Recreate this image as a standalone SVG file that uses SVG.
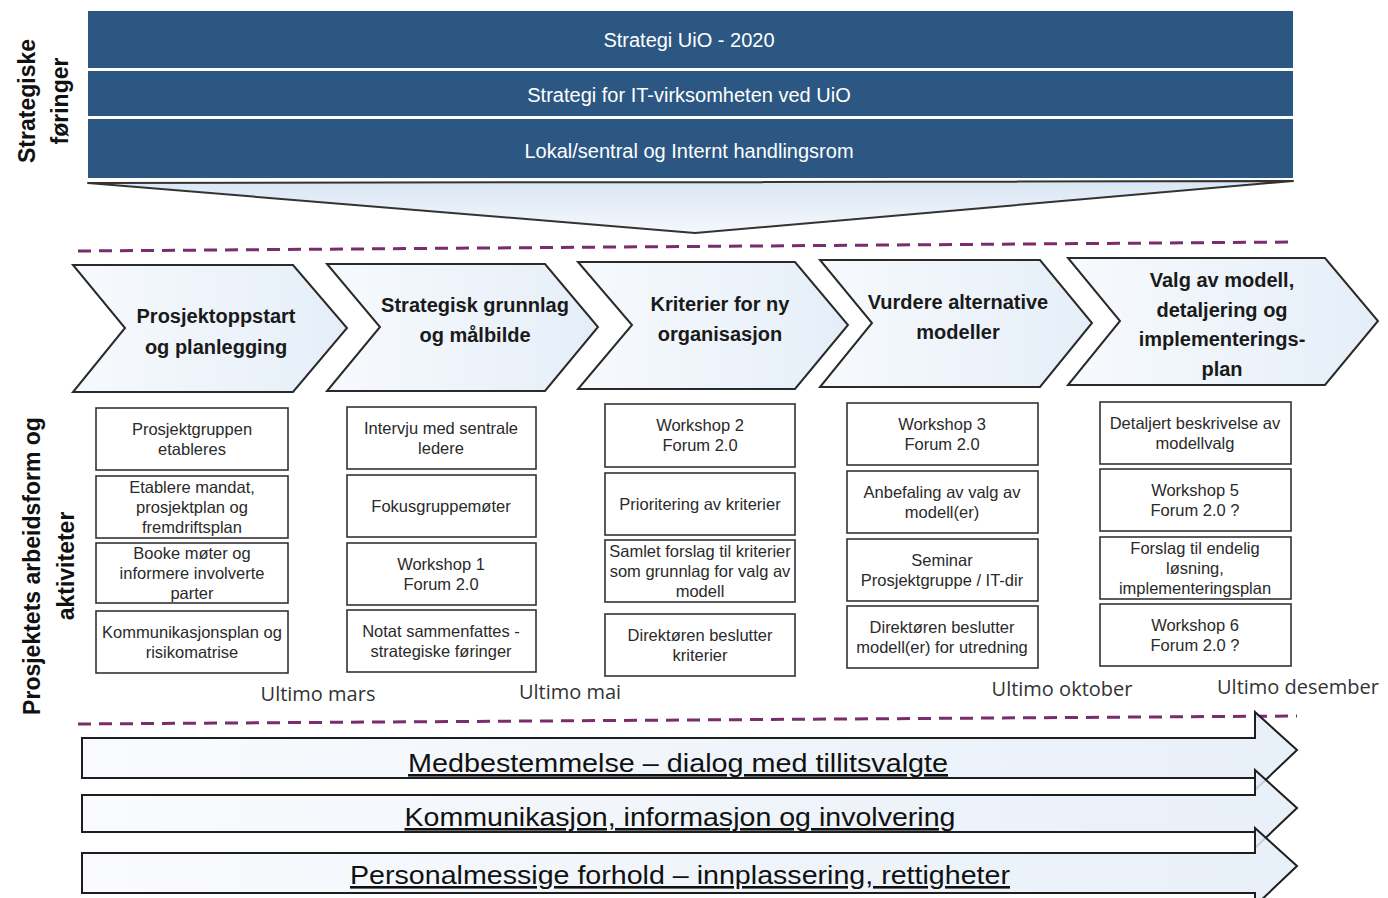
<svg xmlns="http://www.w3.org/2000/svg" width="1388" height="898" viewBox="0 0 1388 898">
<defs>
<linearGradient id="chev" x1="0" y1="0" x2="1" y2="0">
<stop offset="0" stop-color="#f7fafd"/><stop offset="1" stop-color="#e5eef8"/>
</linearGradient>
<linearGradient id="funnel" x1="0" y1="0" x2="0" y2="1">
<stop offset="0" stop-color="#d9e6f4"/><stop offset="1" stop-color="#f5f8fc"/>
</linearGradient>
<linearGradient id="arr" x1="0" y1="0" x2="1" y2="0">
<stop offset="0" stop-color="#f8fafd"/><stop offset="1" stop-color="#e4edf7"/>
</linearGradient>
</defs>
<style>
.band{fill:#2b5782}
.bandtxt{font-family:"Liberation Sans",Arial,sans-serif;font-size:20px;fill:#ffffff;text-anchor:middle}
.side{font-family:"Liberation Sans",Arial,sans-serif;font-size:23px;font-weight:bold;fill:#111;text-anchor:middle}
.chev{fill:url(#chev);stroke:#2a2a2a;stroke-width:2}
.chevtxt{font-family:"Liberation Sans",Arial,sans-serif;font-size:20px;font-weight:bold;fill:#1a1a1a;text-anchor:middle}
.box{fill:#ffffff;stroke:#333;stroke-width:1.6}
.boxtxt{font-family:"Liberation Sans",Arial,sans-serif;font-size:16.5px;fill:#2a2a2a;text-anchor:middle}
.ms{font-family:"Open Sans","Liberation Sans",sans-serif;font-size:20px;fill:#333;text-anchor:middle}
.dash{stroke:#7a2c6c;stroke-width:3;stroke-dasharray:13 8;fill:none}
.arrow{fill:url(#arr);fill-opacity:0.85;stroke:#1e1e1e;stroke-width:2}
.arrtxt{font-family:"Liberation Sans",Arial,sans-serif;font-size:26px;fill:#111;text-anchor:middle;text-decoration:underline}
</style>
<rect width="1388" height="898" fill="#ffffff"/>

<g id="side-labels">
<text class="side" transform="translate(35,101) rotate(-90)">Strategiske</text>
<text class="side" transform="translate(68,101) rotate(-90)">føringer</text>
<text class="side" transform="translate(40,566) rotate(-90)">Prosjektets arbeidsform og</text>
<text class="side" transform="translate(74,566) rotate(-90)">aktiviteter</text>
</g>

<g id="strategy-bands">
<g id="band1"><rect class="band" x="88" y="11" width="1205" height="57"/><text class="bandtxt" x="689" y="47">Strategi UiO - 2020</text></g>
<g id="band2"><rect class="band" x="88" y="71" width="1205" height="45"/><text class="bandtxt" x="689" y="102">Strategi for IT-virksomheten ved UiO</text></g>
<g id="band3"><rect class="band" x="88" y="119" width="1205" height="59"/><text class="bandtxt" x="689" y="158">Lokal/sentral og Internt handlingsrom</text></g>
<path id="funnel-shape" d="M88,183 L1293,181 L695,233 Z" fill="url(#funnel)" stroke="#333" stroke-width="2" stroke-linejoin="round"/>
</g>

<g id="connectors">
<line class="dash" x1="78" y1="251" x2="1295" y2="242"/>
<line class="dash" x1="78" y1="724" x2="1297" y2="716"/>
</g>

<g id="phase1"><path class="chev" d="M73,265 L293,265 L347,328 L293,392 L73,392 L125,328 Z"/>
<text class="chevtxt" x="216" y="323">Prosjektoppstart</text><text class="chevtxt" x="216" y="354">og planlegging</text></g>
<g id="phase2"><path class="chev" d="M327,264 L545,264 L598,327 L545,391 L327,391 L380,327 Z"/>
<text class="chevtxt" x="475" y="312">Strategisk grunnlag</text><text class="chevtxt" x="475" y="342">og målbilde</text></g>
<g id="phase3"><path class="chev" d="M578,262 L795,262 L848,325 L795,389 L578,389 L632,325 Z"/>
<text class="chevtxt" x="720" y="311">Kriterier for ny</text><text class="chevtxt" x="720" y="341">organisasjon</text></g>
<g id="phase4"><path class="chev" d="M820,260 L1040,260 L1092,323 L1040,387 L820,387 L872,323 Z"/>
<text class="chevtxt" x="958" y="309">Vurdere alternative</text><text class="chevtxt" x="958" y="339">modeller</text></g>
<g id="phase5"><path class="chev" d="M1068,258 L1325,258 L1378,321 L1325,385 L1068,385 L1120,321 Z"/>
<text class="chevtxt" x="1222" y="287">Valg av modell,</text><text class="chevtxt" x="1222" y="317">detaljering og</text><text class="chevtxt" x="1222" y="346">implementerings-</text><text class="chevtxt" x="1222" y="376">plan</text></g>

<g id="col1">
<g id="c1b1"><rect class="box" x="96" y="408" width="192" height="62"/><text class="boxtxt" x="192" y="435">Prosjektgruppen</text><text class="boxtxt" x="192" y="455">etableres</text></g>
<g id="c1b2"><rect class="box" x="96" y="476" width="192" height="62"/><text class="boxtxt" x="192" y="493">Etablere mandat,</text><text class="boxtxt" x="192" y="513">prosjektplan og</text><text class="boxtxt" x="192" y="533">fremdriftsplan</text></g>
<g id="c1b3"><rect class="box" x="96" y="543" width="192" height="60"/><text class="boxtxt" x="192" y="559">Booke møter og</text><text class="boxtxt" x="192" y="579">informere involverte</text><text class="boxtxt" x="192" y="599">parter</text></g>
<g id="c1b4"><rect class="box" x="96" y="611" width="192" height="62"/><text class="boxtxt" x="192" y="638">Kommunikasjonsplan og</text><text class="boxtxt" x="192" y="658">risikomatrise</text></g>
</g>
<g id="col2">
<g id="c2b1"><rect class="box" x="347" y="407" width="189" height="62"/><text class="boxtxt" x="441" y="434">Intervju med sentrale</text><text class="boxtxt" x="441" y="454">ledere</text></g>
<g id="c2b2"><rect class="box" x="347" y="475" width="189" height="62"/><text class="boxtxt" x="441" y="512">Fokusgruppemøter</text></g>
<g id="c2b3"><rect class="box" x="347" y="543" width="189" height="62"/><text class="boxtxt" x="441" y="570">Workshop 1</text><text class="boxtxt" x="441" y="590">Forum 2.0</text></g>
<g id="c2b4"><rect class="box" x="347" y="610" width="189" height="62"/><text class="boxtxt" x="441" y="637">Notat sammenfattes -</text><text class="boxtxt" x="441" y="657">strategiske føringer</text></g>
</g>
<g id="col3">
<g id="c3b1"><rect class="box" x="605" y="404" width="190" height="63"/><text class="boxtxt" x="700" y="431">Workshop 2</text><text class="boxtxt" x="700" y="451">Forum 2.0</text></g>
<g id="c3b2"><rect class="box" x="605" y="473" width="190" height="62"/><text class="boxtxt" x="700" y="510">Prioritering av kriterier</text></g>
<g id="c3b3"><rect class="box" x="605" y="540" width="190" height="62"/><text class="boxtxt" x="700" y="557">Samlet forslag til kriterier</text><text class="boxtxt" x="700" y="577">som grunnlag for valg av</text><text class="boxtxt" x="700" y="597">modell</text></g>
<g id="c3b4"><rect class="box" x="605" y="614" width="190" height="62"/><text class="boxtxt" x="700" y="641">Direktøren beslutter</text><text class="boxtxt" x="700" y="661">kriterier</text></g>
</g>
<g id="col4">
<g id="c4b1"><rect class="box" x="847" y="403" width="191" height="62"/><text class="boxtxt" x="942" y="430">Workshop 3</text><text class="boxtxt" x="942" y="450">Forum 2.0</text></g>
<g id="c4b2"><rect class="box" x="847" y="471" width="191" height="62"/><text class="boxtxt" x="942" y="498">Anbefaling av valg av</text><text class="boxtxt" x="942" y="518">modell(er)</text></g>
<g id="c4b3"><rect class="box" x="847" y="539" width="191" height="62"/><text class="boxtxt" x="942" y="566">Seminar</text><text class="boxtxt" x="942" y="586">Prosjektgruppe / IT-dir</text></g>
<g id="c4b4"><rect class="box" x="847" y="606" width="191" height="62"/><text class="boxtxt" x="942" y="633">Direktøren beslutter</text><text class="boxtxt" x="942" y="653">modell(er) for utredning</text></g>
</g>
<g id="col5">
<g id="c5b1"><rect class="box" x="1100" y="402" width="191" height="62"/><text class="boxtxt" x="1195" y="429">Detaljert beskrivelse av</text><text class="boxtxt" x="1195" y="449">modellvalg</text></g>
<g id="c5b2"><rect class="box" x="1100" y="469" width="191" height="62"/><text class="boxtxt" x="1195" y="496">Workshop 5</text><text class="boxtxt" x="1195" y="516">Forum 2.0 ?</text></g>
<g id="c5b3"><rect class="box" x="1100" y="537" width="191" height="62"/><text class="boxtxt" x="1195" y="554">Forslag til endelig</text><text class="boxtxt" x="1195" y="574">løsning,</text><text class="boxtxt" x="1195" y="594">implementeringsplan</text></g>
<g id="c5b4"><rect class="box" x="1100" y="604" width="191" height="62"/><text class="boxtxt" x="1195" y="631">Workshop 6</text><text class="boxtxt" x="1195" y="651">Forum 2.0 ?</text></g>
</g>

<g id="milestones">
<text class="ms" x="318" y="701">Ultimo mars</text>
<text class="ms" x="570" y="699">Ultimo mai</text>
<text class="ms" x="1062" y="696">Ultimo oktober</text>
<text class="ms" x="1298" y="694">Ultimo desember</text>
</g>

<g id="arrow1"><path class="arrow" d="M82,738 L1255,738 L1255,712 L1297,750 L1255,790 L1255,778 L82,778 Z"/>
<text class="arrtxt" x="678" y="772" textLength="540" lengthAdjust="spacingAndGlyphs">Medbestemmelse – dialog med tillitsvalgte</text></g>
<g id="arrow2"><path class="arrow" d="M82,795 L1255,795 L1255,770 L1297,808 L1255,848 L1255,832 L82,832 Z"/>
<text class="arrtxt" x="680" y="826" textLength="551" lengthAdjust="spacingAndGlyphs">Kommunikasjon, informasjon og involvering</text></g>
<g id="arrow3"><path class="arrow" d="M82,853 L1255,853 L1255,828 L1297,866 L1255,906 L1255,893 L82,893 Z"/>
<text class="arrtxt" x="680" y="884" textLength="660" lengthAdjust="spacingAndGlyphs">Personalmessige forhold – innplassering, rettigheter</text></g>
</svg>
